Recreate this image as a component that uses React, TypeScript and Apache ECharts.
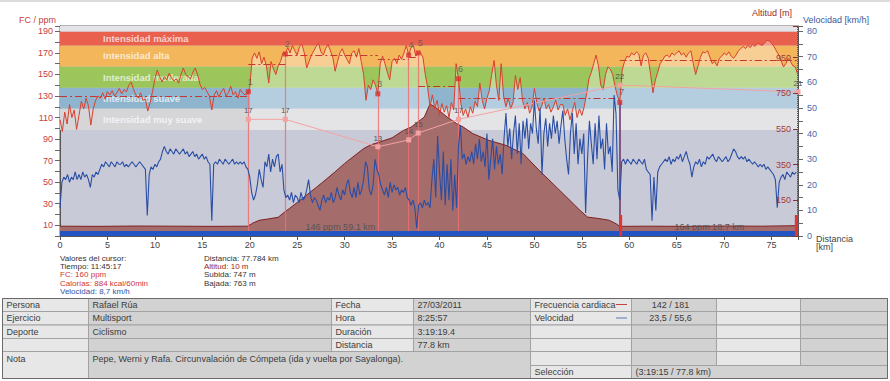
import React, { useEffect, useRef } from 'react';
import * as echarts from 'echarts';

const FONT = '"Liberation Sans", Arial, sans-serif';

// Heart rate (ppm) sampled every 0.25 km from 0 to 77.75 km
const HR_STEP_KM = 0.25;
const hrBpm = [
  108, 97, 115, 104, 122, 110, 117, 99, 112, 125, 118, 128, 121, 103, 118, 126,
  130, 128, 133, 127, 134, 131, 135, 130, 133, 137, 132, 136, 134, 140, 143, 136,
  131, 128, 133, 126, 127, 116, 124, 134, 146, 154, 148, 143, 148, 145, 151, 147,
  144, 146, 142, 150, 156, 150, 148, 146, 152, 156, 150, 141, 136, 138, 134, 130,
  117, 131, 135, 129, 134, 137, 130, 133, 139, 131, 134, 128, 136, 133, 131, 132,
  138, 165, 170, 165, 171, 160, 166, 158, 142, 162, 155, 150, 158, 162, 170, 169,
  175, 170, 177, 172, 168, 176, 178, 170, 156, 162, 168, 172, 176, 179, 171, 168,
  174, 178, 172, 166, 153, 162, 170, 174, 168, 164, 160, 170, 172, 166, 174, 162,
  150, 126, 140, 136, 145, 140, 132, 160, 167, 160, 152, 145, 162, 165, 160, 168,
  164, 170, 177, 168, 175, 177, 167, 170, 170, 166, 150, 138, 120, 131, 118, 126,
  112, 123, 115, 121, 110, 124, 117, 160, 146, 123, 112, 118, 110, 120, 114, 125,
  120, 142, 126, 118, 128, 135, 150, 163, 140, 126, 160, 130, 120, 128, 118, 124,
  149, 136, 147, 126, 118, 124, 114, 120, 137, 124, 116, 120, 128, 118, 122, 115,
  120, 126, 117, 122, 122, 112, 118, 108, 116, 124, 110, 118, 112, 120, 132, 146,
  152, 160, 168, 158, 140, 136, 150, 157, 155, 150, 139, 130, 124, 154, 162, 167,
  166, 170, 168, 171, 169, 158, 168, 170, 165, 150, 133, 145, 152, 160, 163, 167,
  168, 166, 170, 168, 170, 172, 168, 170, 166, 170, 172, 160, 150, 158, 166, 171,
  170, 172, 166, 160, 162, 158, 165, 167, 170, 168, 171, 167, 165, 168, 172, 174,
  176, 174, 177, 175, 178, 176, 179, 178, 177, 179, 182, 181, 179, 176, 172, 168,
  163, 157, 160, 165, 162, 158, 157, 150,
];

// Speed (km/h) sampled every 0.2 km from 0 to 77.6 km
const SPEED_STEP_KM = 0.2;
const speedKmh = [
  11, 21, 23, 22, 24, 21, 23, 22, 25, 22, 24, 22, 25, 23, 24, 22, 19, 24, 23, 25,
  24, 26, 28, 27, 29, 28, 27, 29, 28, 27, 29, 28, 28, 29, 27, 28, 27, 28, 29, 28,
  27, 28, 29, 28, 27, 26, 8, 24, 27, 26, 28, 27, 29, 30, 33, 35, 33, 32, 34, 33,
  32, 34, 33, 32, 33, 34, 32, 33, 31, 32, 33, 31, 32, 30, 31, 32, 30, 31, 29, 28,
  6, 28, 29, 28, 30, 29, 28, 30, 29, 28, 29, 30, 28, 29, 28, 29, 28, 29, 27, 26,
  23, 17, 14, 16, 20, 26, 22, 19, 29, 27, 32, 25, 30, 27, 31, 32, 25, 28, 18, 15,
  16, 14, 17, 13, 16, 15, 13, 17, 14, 15, 18, 22, 16, 13, 15, 14, 12, 10, 14, 16,
  13, 15, 14, 17, 13, 15, 19, 16, 14, 18, 16, 20, 22, 17, 15, 19, 15, 21, 16, 18,
  22, 29, 27, 18, 16, 20, 30, 26, 24, 20, 18, 16, 19, 15, 21, 17, 20, 18, 19, 16,
  18, 17, 19, 15, 14, 12, 14, 11, 3, 12, 13, 11, 14, 12, 13, 11, 22, 30, 15, 39,
  25, 14, 33, 12, 28, 14, 30, 10, 24, 11, 35, 43, 30, 32, 28, 31, 29, 33, 28, 36,
  30, 38, 29, 33, 27, 40, 22, 30, 38, 26, 35, 28, 32, 24, 38, 48, 35, 42, 30, 40,
  47, 32, 44, 28, 45, 38, 46, 34, 44, 40, 53, 42, 36, 50, 24, 40, 46, 35, 44, 38,
  47, 40, 45, 36, 43, 49, 38, 30, 24, 40, 48, 32, 44, 28, 38, 32, 40, 9, 30, 45,
  36, 28, 44, 30, 47, 34, 38, 26, 44, 32, 35, 25, 55, 48, 18, 14, 29, 30, 28, 30,
  29, 28, 30, 29, 28, 30, 29, 28, 30, 26, 25, 24, 6, 23, 10, 25, 27, 28, 29, 30,
  29, 31, 28, 30, 29, 31, 30, 32, 29, 31, 33, 30, 28, 23, 27, 29, 28, 30, 27, 29,
  28, 31, 30, 31, 32, 30, 29, 31, 30, 29, 30, 31, 29, 30, 32, 34, 33, 31, 30, 31,
  30, 31, 29, 30, 29, 28, 29, 28, 27, 28, 27, 28, 26, 27, 26, 25, 24, 22, 11, 21,
  23, 24, 22, 25, 24, 23, 25, 24, 25,
];

// Altitude profile
const altKm = [0, 4, 8, 12, 16, 19.8, 20.3, 21, 22, 23, 23.5, 24.2, 25.3, 26, 27, 27.7, 29, 30, 31.4, 32, 32.8, 33.6, 35, 36.2, 37, 38.4, 39, 39.6, 40.8, 41.8, 42.5, 43.5, 45.2, 47, 48.8, 50.5, 52.3, 54.1, 54.8, 55.6, 56.9, 57.9, 58.6, 59, 62, 66, 70, 74, 77.78];
const altM = [5, 4, 6, 5, 4, 5, 22, 38, 46, 55, 77, 105, 150, 180, 222, 252, 310, 357, 415, 440, 462, 475, 500, 542, 560, 617, 690, 670, 617, 580, 561, 524, 486, 458, 412, 318, 225, 131, 94, 56, 47, 38, 19, 4, 5, 4, 6, 5, 8];

// Laps
const lapKm = [19.85, 23.75, 33.5, 36.75, 37.75, 42.0, 59.0];
const lapHr = [134, 169, 132, 168, 170, 146, 124];
const lapNames = ['1', '2', '3', '4', '5', '6', '7'];
const lapValueKm = [19.85, 23.75, 33.5, 36.75, 37.75, 42.0, 59.0, 77.784];
const lapValues = [17, 17, 13, 14, 15, 17, 22, 21];
const lapAvgStart = [0, 19.85, 23.75, 33.5, 36.75, 37.75, 42.0, 59.0];
const lapAvgEnd = [19.85, 23.75, 33.5, 36.75, 37.75, 42.0, 59.0, 77.784];
const lapAvgHr = [130, 159.5, 168, 164, 166, 139, 128, 163.5];

// Intensity zones (ppm)
const zoneBounds = [98.4, 118.3, 137.7, 157.5, 177, 190, 195];
const zoneNames = ['Intensidad muy suave', 'Intensidad suave', 'Intensidad moderada', 'Intensidad alta', 'Intensidad máxima', ''];
const zoneColors = ['#d6d6d9', '#8eb4ce', '#9cc55b', '#f3b65b', '#e9614e', '#e3e3e8'];

// Selection segments
const selStart = [0, 59.1];
const selEnd = [59.1, 77.784];
const selLabels = ['146 ppm 59.1 km', '164 ppm 18.7 km'];
const sepStart = [58.95, 77.45];
const sepEnd = [59.25, 77.784];
const cursorKm = 77.72;
const DIST_MAX = 77.784;

const cursorLeft = ['Valores del cursor:', 'Tiempo: 11:45:17', 'FC: 160 ppm', 'Calorías: 884 kcal/60min', 'Velocidad: 8,7 km/h'];
const cursorLeftColors = ['#333', '#333', '#d03535', '#d03535', '#3352a3'];
const cursorRight = ['Distancia: 77.784 km', 'Altitud: 10 m', 'Subida: 747 m', 'Bajada: 763 m'];
const cursorRightColors = ['#333', '#9a2525', '#333', '#333'];

const L = '#e7e7e7';
const D = '#d2d2d2';
const rowY = [298, 311, 324.5, 338, 351, 365, 378];
type Cell = [number, number, number, number, string, string, string?];
const cells: Cell[] = [
  [2, 88, 0, 1, L, 'Persona'], [88, 331, 0, 1, D, 'Rafael Rúa'], [331, 413, 0, 1, L, 'Fecha'], [413, 530, 0, 1, D, '27/03/2011'],
  [530, 631, 0, 1, L, 'Frecuencia cardiaca'], [631, 716, 0, 1, D, '142 / 181', 'center'], [716, 800, 0, 1, L, ''], [800, 887, 0, 1, D, ''],
  [2, 88, 1, 2, L, 'Ejercicio'], [88, 331, 1, 2, D, 'Multisport'], [331, 413, 1, 2, L, 'Hora'], [413, 530, 1, 2, D, '8:25:57'],
  [530, 631, 1, 2, L, 'Velocidad'], [631, 716, 1, 2, D, '23,5 / 55,6', 'center'], [716, 800, 1, 2, L, ''], [800, 887, 1, 2, D, ''],
  [2, 88, 2, 3, L, 'Deporte'], [88, 331, 2, 3, D, 'Ciclismo'], [331, 413, 2, 3, L, 'Duración'], [413, 530, 2, 3, D, '3:19:19.4'],
  [530, 631, 2, 3, L, ''], [631, 716, 2, 3, D, ''], [716, 800, 2, 3, L, ''], [800, 887, 2, 3, D, ''],
  [2, 88, 3, 4, L, ''], [88, 331, 3, 4, D, ''], [331, 413, 3, 4, L, 'Distancia'], [413, 530, 3, 4, D, '77.8 km'],
  [530, 631, 3, 4, L, ''], [631, 716, 3, 4, D, ''], [716, 800, 3, 4, L, ''], [800, 887, 3, 4, D, ''],
  [2, 88, 4, 6, L, 'Nota', 'top'], [88, 530, 4, 6, D, 'Pepe, Werni y Rafa. Circunvalación de Cómpeta (ida y vuelta por Sayalonga).', 'top'],
  [530, 631, 4, 5, L, ''], [631, 716, 4, 5, D, ''], [716, 800, 4, 5, L, ''], [800, 887, 4, 5, D, ''],
  [530, 631, 5, 6, L, 'Selección'], [631, 887, 5, 6, D, '(3:19:15 / 77.8 km)'],
];

function buildGraphic() {
  const g: any[] = [];
  g.push({ type: 'rect', shape: { x: 0, y: 0, width: 890, height: 2 }, style: { fill: '#dcdcdc' }, silent: true });
  const txt = (text: string, x: number, y: number, fill: string, size: number, align = 'left') => ({
    type: 'text', silent: true,
    style: { text, x, y, fill, fontSize: size, fontFamily: FONT, textAlign: align, textVerticalAlign: 'middle', align, verticalAlign: 'middle' },
  });
  g.push(txt('FC / ppm', 19, 19.5, '#c84040', 9));
  g.push(txt('Altitud [m]', 792, 12.7, '#9a2a2a', 9, 'right'));
  g.push(txt('Velocidad [km/h]', 803, 19.5, '#3a5aa0', 9));
  g.push(txt('Distancia', 816, 238.5, '#444', 9));
  g.push(txt('[km]', 816, 247, '#444', 9));
  cursorLeft.forEach((t, i) => g.push(txt(t, 60, 258.3 + i * 8.3, cursorLeftColors[i], 8)));
  cursorRight.forEach((t, i) => g.push(txt(t, 204, 258.3 + i * 8.3, cursorRightColors[i], 8)));
  cells.forEach(([x0, x1, r0, r1, fill, text, align]) => {
    const y0 = rowY[r0];
    const y1 = rowY[r1];
    g.push({ type: 'rect', silent: true, shape: { x: x0 + 0.5, y: y0 + 0.5, width: x1 - x0, height: y1 - y0 }, style: { fill, stroke: '#a2a2a2', lineWidth: 1 } });
    if (text) {
      const isCenter = align === 'center';
      const ty = align === 'top' ? y0 + 8 : (y0 + y1) / 2 + 0.5;
      g.push(txt(text, isCenter ? (x0 + x1) / 2 - 3 : x0 + 4.5, ty, '#3c3c3c', 9, isCenter ? 'center' : 'left'));
    }
  });
  g.push({ type: 'rect', silent: true, shape: { x: 2.5, y: 298.5, width: 885, height: 80 }, style: { fill: 'none', stroke: '#6a6a6a', lineWidth: 1 } });
  g.push({ type: 'line', silent: true, shape: { x1: 616, y1: 304.5, x2: 627, y2: 304.5 }, style: { stroke: '#c84040', lineWidth: 1 } });
  g.push({ type: 'line', silent: true, shape: { x1: 616, y1: 318, x2: 627, y2: 318 }, style: { stroke: '#5a78b8', lineWidth: 1 } });
  return g;
}

function buildOption() {
  const hrData = hrBpm.map((v, i) => [i * HR_STEP_KM, v]);
  const hrAreaData = hrData.map(([k, v]) => (k >= lapKm[0] ? [k, v] : [k, '-']));
  const speedData = speedKmh.map((v, i) => [i * SPEED_STEP_KM, v]);
  const altData = altKm.map((k, i) => [k, altM[i]]);
  const lapData = lapKm.map((k, i) => ({ value: [k, lapHr[i]], name: lapNames[i] }));
  const lapValueData = lapValueKm.map((k, i) => [k, lapValues[i]]);

  const zoneAreas = zoneNames.map((name, i) => [
    {
      yAxis: zoneBounds[i],
      itemStyle: { color: zoneColors[i] },
      label: {
        show: !!name, formatter: name, position: 'insideLeft', distance: 43,
        color: 'rgba(255,255,255,0.72)', fontWeight: 'bold', fontSize: 9.5, fontFamily: FONT,
      },
    },
    { yAxis: zoneBounds[i + 1] },
  ]);

  const selAreas: any[] = selStart.map((s, i) => [
    {
      coord: [s, 0], itemStyle: { color: '#2354c4' },
      label: { show: true, formatter: selLabels[i], position: 'top', distance: 0, color: '#555', fontSize: 9, fontFamily: FONT },
    },
    { coord: [selEnd[i], 4.6] },
  ]);
  sepStart.forEach((s, i) => selAreas.push([
    { coord: [s, 0], itemStyle: { color: '#e23434' }, label: { show: false } },
    { coord: [sepEnd[i], 19.5] },
  ]));

  const lapLines = lapKm.map((k, i) => [
    { coord: [k, 0], lineStyle: i === lapKm.length - 1 ? { color: '#6b3a70', width: 1.6, type: 'solid' } : { color: 'rgba(236,112,112,0.85)', width: 1.2, type: 'solid' } },
    { coord: [k, lapHr[i]] },
  ]);

  const avgLines = lapAvgStart.map((s, i) => [
    { coord: [s, lapAvgHr[i]] },
    { coord: [lapAvgEnd[i], lapAvgHr[i]] },
  ]);

  return {
    animation: false,
    backgroundColor: '#ffffff',
    textStyle: { fontFamily: FONT },
    grid: { left: 60, right: 92, top: 26, bottom: 145, show: true, backgroundColor: '#c9cad8', borderColor: '#666', borderWidth: 1 },
    xAxis: {
      type: 'value', min: 0, max: DIST_MAX, interval: 5,
      axisLine: { show: true, lineStyle: { color: '#555' } },
      axisTick: { show: true, length: 4, lineStyle: { color: '#555' } },
      axisLabel: { color: '#444', fontSize: 9, margin: 4, fontFamily: FONT, formatter: (v: number) => (v % 5 === 0 ? String(v) : '') },
      splitLine: { show: false },
    },
    yAxis: [
      {
        type: 'value', position: 'left', min: 0, max: 195, interval: 10,
        axisLine: { show: true, lineStyle: { color: '#555' } },
        axisTick: { show: true, length: 5, lineStyle: { color: '#666' } },
        axisLabel: { color: '#c84040', fontSize: 9, margin: 7, fontFamily: FONT, formatter: (v: number) => (v % 20 === 10 ? String(v) : '') },
        splitLine: { show: false },
      },
      {
        type: 'value', position: 'right', min: 0, max: 82, interval: 5,
        axisLine: { show: true, lineStyle: { color: '#555' } },
        axisTick: { show: true, length: 5, lineStyle: { color: '#666' } },
        axisLabel: { color: '#4a68a8', fontSize: 9, margin: 9, fontFamily: FONT, formatter: (v: number) => (v % 10 === 0 ? String(v) : '') },
        splitLine: { show: false },
      },
      {
        type: 'value', position: 'right', min: -50, max: 1127, interval: 200, z: 20,
        axisLine: { show: false },
        axisTick: { show: true, inside: true, length: 5, lineStyle: { color: '#8a3030' } },
        axisLabel: { inside: true, color: '#a03a3a', fontSize: 9, margin: 7, fontFamily: FONT, formatter: (v: number) => (v >= 150 && v <= 950 ? String(v) : '') },
        splitLine: { show: false },
      },
      { type: 'value', min: 0, max: 30.6, show: false },
    ],
    series: [
      {
        name: 'zones', type: 'line', yAxisIndex: 0, z: 1, silent: true, symbol: 'none',
        data: [[0, 0]], lineStyle: { width: 0 },
        markArea: { silent: true, z: 1, data: zoneAreas },
      },
      {
        name: 'hrArea', type: 'line', yAxisIndex: 0, z: 2, silent: true, symbol: 'none',
        data: hrAreaData, lineStyle: { width: 0 },
        areaStyle: { color: 'rgba(255,255,255,0.5)', origin: 98.4 },
      },
      {
        name: 'Altitud', type: 'line', yAxisIndex: 2, z: 3, silent: true, symbol: 'none',
        data: altData, lineStyle: { color: '#7e2222', width: 1 },
        areaStyle: { color: '#a56c6c', opacity: 1, origin: 'start' },
      },
      {
        name: 'marks', type: 'line', yAxisIndex: 0, z: 4, silent: true, symbol: 'none',
        data: [[0, 0]], lineStyle: { width: 0 },
        markArea: { silent: true, z: 6, data: selAreas },
        markLine: {
          silent: true, symbol: ['none', 'none'], label: { show: false },
          data: [...lapLines, [{ coord: [cursorKm, 0], lineStyle: { color: '#e02020', type: 'dotted', width: 1 } }, { coord: [cursorKm, 195] }]],
        },
      },
      {
        name: 'FC', type: 'line', yAxisIndex: 0, z: 5, silent: true, symbol: 'none',
        data: hrData, lineStyle: { color: '#d8402e', width: 1 },
        markLine: {
          silent: true, symbol: ['none', 'none'], label: { show: false },
          lineStyle: { color: '#c23636', width: 1, type: [7, 3, 2, 3] },
          data: avgLines,
        },
      },
      {
        name: 'lapValues', type: 'line', yAxisIndex: 3, z: 6, silent: true,
        data: lapValueData, symbol: 'rect', symbolSize: 5,
        lineStyle: { color: '#f2a3a3', width: 1 }, itemStyle: { color: '#f3a2a2' },
        label: { show: true, position: 'top', distance: 2, color: '#555', fontSize: 8, fontFamily: FONT, formatter: (p: any) => String(p.value[1]) },
      },
      {
        name: 'Velocidad', type: 'line', yAxisIndex: 1, z: 7, silent: true, symbol: 'none',
        data: speedData, lineStyle: { color: '#2a4ea4', width: 1.1 },
      },
      {
        name: 'laps', type: 'scatter', yAxisIndex: 0, z: 8, silent: true,
        data: lapData, symbol: 'rect', symbolSize: 5, itemStyle: { color: '#d83030' },
        label: { show: true, position: 'top', distance: 3, offset: [2, 0], color: '#555', fontSize: 9, fontFamily: FONT, formatter: '{b}' },
      },
    ],
    graphic: buildGraphic(),
  };
}

export default function App() {
  const ref = useRef<HTMLDivElement>(null);
  useEffect(() => {
    document.body.style.margin = '0';
    const chart = echarts.init(ref.current as HTMLDivElement, null, { renderer: 'svg' });
    chart.setOption(buildOption() as any);
    return () => chart.dispose();
  }, []);
  return <div ref={ref} style={{ width: 890, height: 381 }} />;
}
